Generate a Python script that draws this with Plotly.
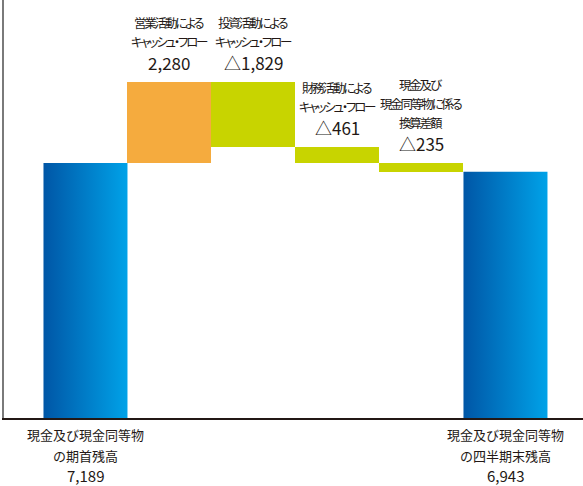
import plotly.graph_objects as go

# ---- data ----
categories = [
    "現金及び現金同等物\nの期首残高",
    "営業活動による\nキャッシュ・フロー",
    "投資活動による\nキャッシュ・フロー",
    "財務活動による\nキャッシュ・フロー",
    "現金及び\n現金同等物に係る\n換算差額",
    "現金及び現金同等物\nの四半期末残高",
]
values = [7189, 2280, -1829, -461, -235, 6943]
value_labels = ["7,189", "2,280", "△1,829", "△461", "△235", "6,943"]
measures = ["total", "relative", "relative", "relative", "relative", "total"]

# ---- styles ----
FONT = "Noto Sans CJK JP"
TEXT_COLOR = "#231815"
BLUE_SCALE = [[0, "#0056A6"], [1, "#00A2E8"]]
UP_COLOR = "#F5AB3E"
DOWN_COLOR = "#C8D400"
BAR_W = 1.0
LABEL_STYLE = "font-feature-settings:'palt';letter-spacing:-2.2px"

fig = go.Figure()

running = 0
rel_x, rel_y, rel_base, rel_col = [], [], [], []
annotations = []
for i, (cat, v, vl, m) in enumerate(zip(categories, values, value_labels, measures)):
    lines = cat.split("\n")
    if m == "total":
        running = v
        xs = [i - BAR_W / 2, i + BAR_W / 2, i + BAR_W / 2, i - BAR_W / 2, i - BAR_W / 2]
        ys = [0, 0, v, v, 0]
        fig.add_trace(go.Scatter(
            x=xs, y=ys, mode="lines", fill="toself",
            line=dict(width=0, color="rgba(0,0,0,0)"),
            fillgradient=dict(type="horizontal", colorscale=BLUE_SCALE),
            hoverinfo="skip", showlegend=False,
        ))
        for k, ln in enumerate(lines):
            annotations.append(dict(
                x=i, y=0, xref="x", yref="y", text=ln, showarrow=False,
                yanchor="middle", yshift=-16 - 21 * k,
                font=dict(family=FONT, size=13, color=TEXT_COLOR),
            ))
        annotations.append(dict(
            x=i, y=0, xref="x", yref="y", text=vl, showarrow=False,
            yanchor="middle", yshift=-16 - 21 * len(lines) + 1,
            font=dict(family=FONT, size=15, color=TEXT_COLOR),
        ))
    else:
        base = running
        running = running + v
        rel_x.append(i)
        rel_y.append(v)
        rel_base.append(base)
        rel_col.append(UP_COLOR if v > 0 else DOWN_COLOR)
        top = max(base, running)
        annotations.append(dict(
            x=i, y=top, xref="x", yref="y", text=vl, showarrow=False,
            yanchor="middle", yshift=20,
            font=dict(family=FONT, size=17, color=TEXT_COLOR),
        ))
        for k, ln in enumerate(reversed(lines)):
            annotations.append(dict(
                x=i, y=top, xref="x", yref="y",
                text=f'<span style="{LABEL_STYLE}">{ln}</span>', showarrow=False,
                yanchor="middle", yshift=41 + 19 * k,
                font=dict(family=FONT, size=12.5, color=TEXT_COLOR),
            ))

fig.add_trace(go.Bar(
    x=rel_x, y=rel_y, base=rel_base, width=BAR_W,
    marker=dict(color=rel_col, line=dict(width=0)),
    hoverinfo="skip", showlegend=False,
))

fig.update_layout(
    width=583, height=486,
    margin=dict(l=4, r=0, t=0, b=68),
    paper_bgcolor="white", plot_bgcolor="white",
    annotations=annotations,
    xaxis=dict(range=[-0.970, 5.923], showticklabels=False, showgrid=False,
               zeroline=False, showline=True, linecolor="#231815", linewidth=1.5,
               ticks="", fixedrange=True),
    yaxis=dict(range=[0, 11784], showticklabels=False, showgrid=False,
               zeroline=False, showline=True, linecolor="#7a7a7a", linewidth=2,
               ticks="", fixedrange=True),
    bargap=0,
)

fig.write_html("out.html")
